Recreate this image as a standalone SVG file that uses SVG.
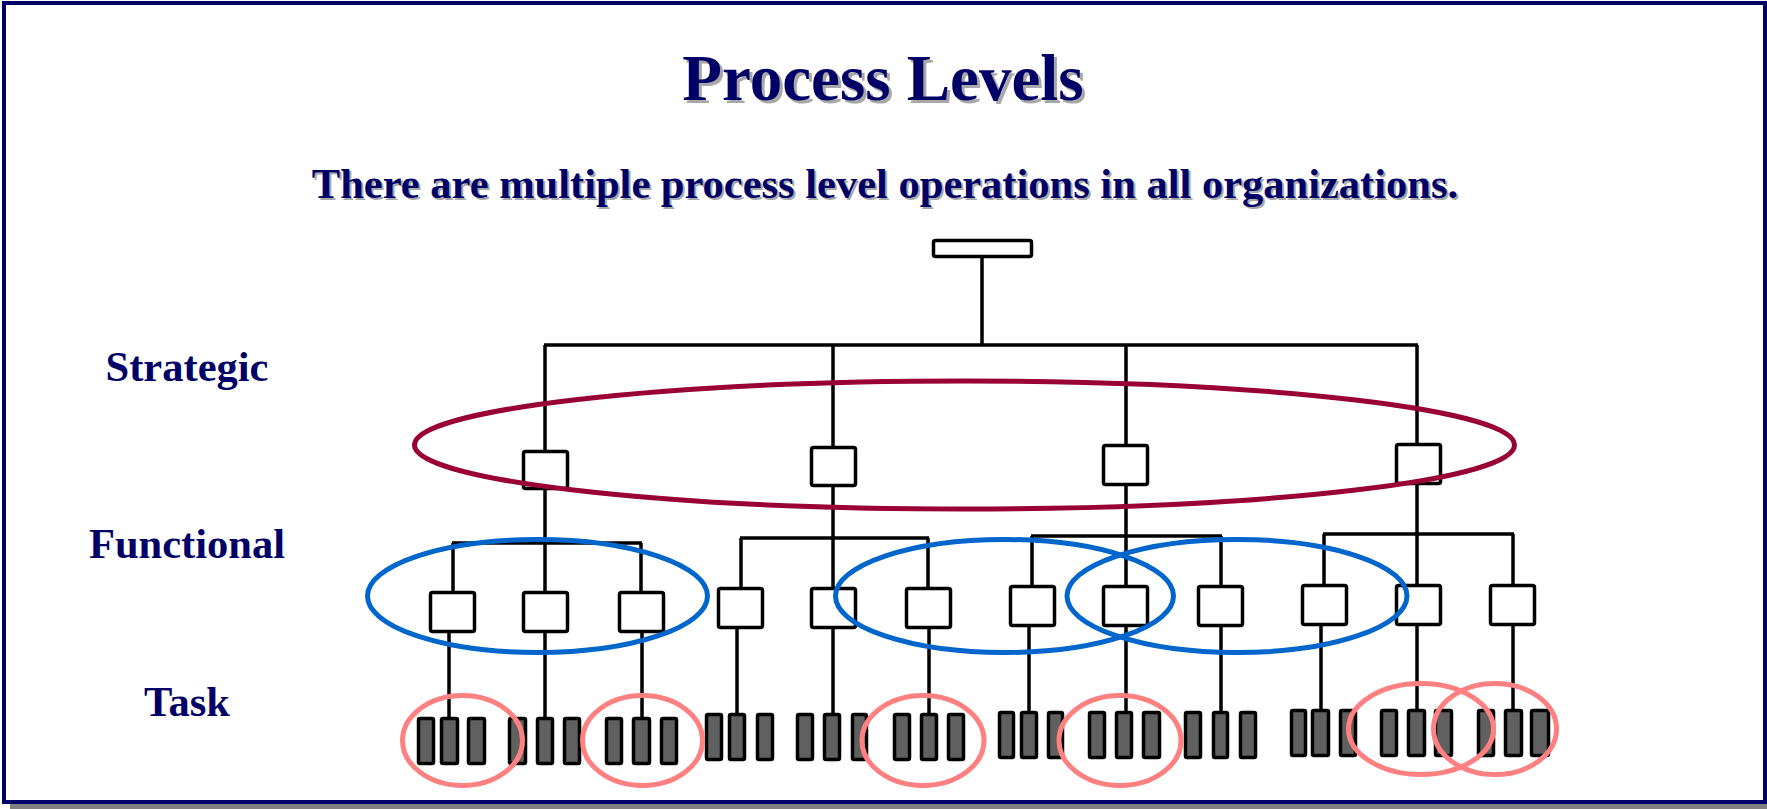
<svg xmlns="http://www.w3.org/2000/svg" width="1767" height="809" viewBox="0 0 1767 809">
<style>
.frame{fill:none;stroke:#000066;stroke-width:4}
.txt{font-family:"Liberation Serif","Times New Roman",serif;font-weight:bold;fill:#000066;text-anchor:middle}
.shadow{fill:#a8a8a8}
.box{fill:#fff;stroke:#000;stroke-width:3.5}
.bar{fill:#606060;stroke:#000;stroke-width:3.5}
.ln{fill:none;stroke:#000;stroke-width:3.5}
.red{fill:none;stroke:#990033;stroke-width:5}
.blue{fill:none;stroke:#0066CC;stroke-width:5}
.pink{fill:none;stroke:#FF8080;stroke-width:5}
</style>
<rect x="0" y="0" width="1767" height="809" fill="#fff"/>
<rect x="10" y="804" width="1757" height="5" fill="#808080"/>
<rect class="frame" x="4" y="3" width="1761" height="799"/>

<g id="title">
<text class="txt shadow" x="886" y="103" font-size="65">Process Levels</text>
<text class="txt" x="883" y="100" font-size="65">Process Levels</text>
</g>
<g id="subtitle">
<text class="txt shadow" x="887" y="200" font-size="42.5">There are multiple process level operations in all organizations.</text>
<text class="txt" x="885" y="198" font-size="42.5">There are multiple process level operations in all organizations.</text>
</g>
<g id="labels">
<text class="txt" x="187" y="381" font-size="42.5">Strategic</text>
<text class="txt" x="187" y="558" font-size="42.5">Functional</text>
<text class="txt" x="187" y="716" font-size="42.5">Task</text>
</g>

<g id="connectors">
<path class="ln" d="M982 258V345M544 345H1418M545 345V451M833 345V447M1126 345V445M1417 345V444"/>
<path class="ln" d="M545 490V592M833 487V588M1126 486V586M1417 485V585"/>
<path class="ln" d="M452 543H642M453 543V592M641 543V592"/>
<path class="ln" d="M740 538H929M741 538V588M928 538V588"/>
<path class="ln" d="M1031 536H1222M1032 536V586M1221 536V586"/>
<path class="ln" d="M1323 534H1514M1324 534V585M1513 534V585"/>
<path class="ln" d="M449 633V718M545 633V718M642 633V718M737 628V714M833 628V714M929 628V714M1029 627V712M1126 627V712M1221 627V712M1321 626V710M1417 626V710M1513 626V710"/>
</g>

<g id="root"><rect class="box" x="933.5" y="240.5" width="98" height="16" rx="2"/></g>
<g id="strategic-1"><rect class="box" x="523.5" y="451.5" width="44" height="37" rx="2"/></g>
<g id="strategic-2"><rect class="box" x="811.5" y="447.5" width="44" height="38" rx="2"/></g>
<g id="strategic-3"><rect class="box" x="1103.5" y="445.5" width="44" height="39" rx="2"/></g>
<g id="strategic-4"><rect class="box" x="1396.5" y="444.5" width="44" height="39" rx="2"/></g>

<g id="functional-1"><rect class="box" x="430.5" y="592.5" width="44" height="39" rx="2"/></g>
<g id="functional-2"><rect class="box" x="523.5" y="592.5" width="44" height="39" rx="2"/></g>
<g id="functional-3"><rect class="box" x="619.5" y="592.5" width="44" height="39" rx="2"/></g>
<g id="functional-4"><rect class="box" x="718.5" y="588.5" width="44" height="39" rx="2"/></g>
<g id="functional-5"><rect class="box" x="811.5" y="588.5" width="44" height="39" rx="2"/></g>
<g id="functional-6"><rect class="box" x="906.5" y="588.5" width="44" height="39" rx="2"/></g>
<g id="functional-7"><rect class="box" x="1010.5" y="586.5" width="44" height="39" rx="2"/></g>
<g id="functional-8"><rect class="box" x="1103.5" y="586.5" width="44" height="39" rx="2"/></g>
<g id="functional-9"><rect class="box" x="1198.5" y="586.5" width="44" height="39" rx="2"/></g>
<g id="functional-10"><rect class="box" x="1302.5" y="585.5" width="44" height="39" rx="2"/></g>
<g id="functional-11"><rect class="box" x="1396.5" y="585.5" width="44" height="39" rx="2"/></g>
<g id="functional-12"><rect class="box" x="1490.5" y="585.5" width="44" height="39" rx="2"/></g>

<g id="task-1"><rect class="bar" x="418.5" y="718.5" width="15" height="45" rx="1.5"/><rect class="bar" x="441.5" y="718.5" width="16" height="45" rx="1.5"/><rect class="bar" x="468.5" y="718.5" width="16" height="45" rx="1.5"/></g>
<g id="task-2"><rect class="bar" x="509.5" y="718.5" width="16" height="45" rx="1.5"/><rect class="bar" x="537.5" y="718.5" width="15" height="45" rx="1.5"/><rect class="bar" x="564.5" y="718.5" width="15" height="45" rx="1.5"/></g>
<g id="task-3"><rect class="bar" x="606.5" y="718.5" width="15" height="45" rx="1.5"/><rect class="bar" x="633.5" y="718.5" width="16" height="45" rx="1.5"/><rect class="bar" x="661.5" y="718.5" width="15" height="45" rx="1.5"/></g>
<g id="task-4"><rect class="bar" x="706.5" y="714.5" width="15" height="45" rx="1.5"/><rect class="bar" x="729.5" y="714.5" width="15" height="45" rx="1.5"/><rect class="bar" x="757.5" y="714.5" width="15" height="45" rx="1.5"/></g>
<g id="task-5"><rect class="bar" x="797.5" y="714.5" width="15" height="45" rx="1.5"/><rect class="bar" x="824.5" y="714.5" width="15" height="45" rx="1.5"/><rect class="bar" x="852.5" y="714.5" width="14" height="45" rx="1.5"/></g>
<g id="task-6"><rect class="bar" x="894.5" y="714.5" width="15" height="45" rx="1.5"/><rect class="bar" x="921.5" y="714.5" width="15" height="45" rx="1.5"/><rect class="bar" x="948.5" y="714.5" width="15" height="45" rx="1.5"/></g>
<g id="task-7"><rect class="bar" x="999.5" y="712.5" width="14" height="45" rx="1.5"/><rect class="bar" x="1021.5" y="712.5" width="15" height="45" rx="1.5"/><rect class="bar" x="1048.5" y="712.5" width="14" height="45" rx="1.5"/></g>
<g id="task-8"><rect class="bar" x="1089.5" y="712.5" width="15" height="45" rx="1.5"/><rect class="bar" x="1116.5" y="712.5" width="15" height="45" rx="1.5"/><rect class="bar" x="1143.5" y="712.5" width="16" height="45" rx="1.5"/></g>
<g id="task-9"><rect class="bar" x="1185.5" y="712.5" width="15" height="45" rx="1.5"/><rect class="bar" x="1213.5" y="712.5" width="14" height="45" rx="1.5"/><rect class="bar" x="1240.5" y="712.5" width="15" height="45" rx="1.5"/></g>
<g id="task-10"><rect class="bar" x="1291.5" y="710.5" width="14" height="45" rx="1.5"/><rect class="bar" x="1312.5" y="710.5" width="16" height="45" rx="1.5"/><rect class="bar" x="1340.5" y="710.5" width="15" height="45" rx="1.5"/></g>
<g id="task-11"><rect class="bar" x="1381.5" y="710.5" width="15" height="45" rx="1.5"/><rect class="bar" x="1408.5" y="710.5" width="16" height="45" rx="1.5"/><rect class="bar" x="1435.5" y="710.5" width="16" height="45" rx="1.5"/></g>
<g id="task-12"><rect class="bar" x="1478.5" y="710.5" width="15" height="45" rx="1.5"/><rect class="bar" x="1505.5" y="710.5" width="16" height="45" rx="1.5"/><rect class="bar" x="1531.5" y="710.5" width="17" height="45" rx="1.5"/></g>

<g id="groupings">
<ellipse class="red" cx="964.5" cy="445" rx="550" ry="64"/>
<ellipse class="blue" cx="537.5" cy="596" rx="170" ry="56.5"/>
<ellipse class="blue" cx="1004.5" cy="596" rx="169" ry="56.5"/>
<ellipse class="blue" cx="1237" cy="596" rx="170" ry="56.5"/>
<ellipse class="pink" cx="462.5" cy="740.5" rx="60" ry="45"/>
<ellipse class="pink" cx="642.5" cy="740.5" rx="60" ry="45"/>
<ellipse class="pink" cx="923" cy="740.5" rx="61" ry="45"/>
<ellipse class="pink" cx="1120" cy="740.5" rx="61" ry="45"/>
<ellipse class="pink" cx="1421" cy="729" rx="72.5" ry="45.5"/>
<ellipse class="pink" cx="1495" cy="729" rx="61.5" ry="45.5"/>
</g>
</svg>
